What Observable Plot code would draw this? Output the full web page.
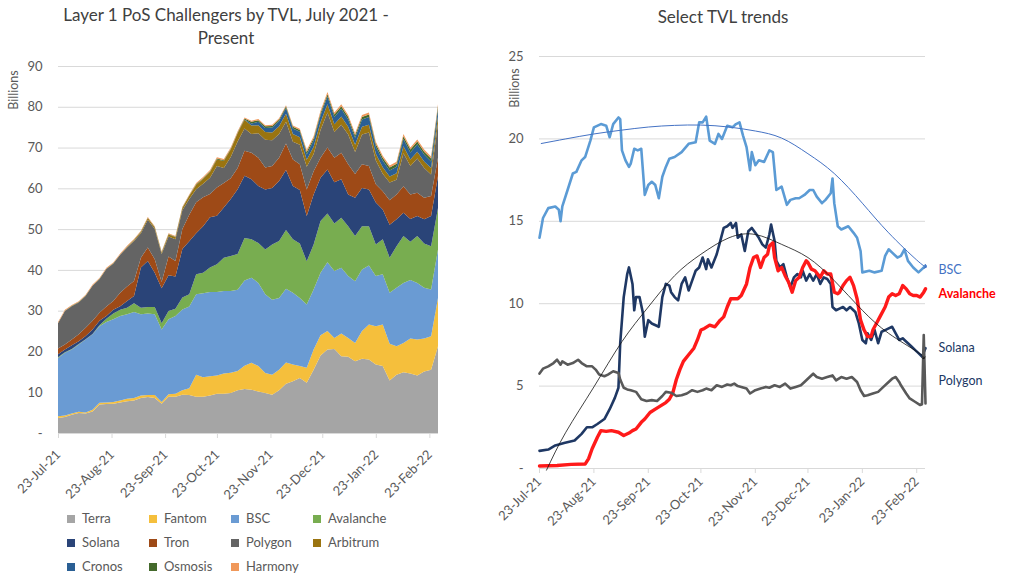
<!DOCTYPE html>
<html>
<head>
<meta charset="utf-8">
<script src="https://cdn.jsdelivr.net/npm/d3@7"></script>
<script src="https://cdn.jsdelivr.net/npm/@observablehq/plot@0.6"></script>
<style>
html,body{margin:0;padding:0;background:#fff;}
#root{position:relative;width:1024px;height:580px;overflow:hidden;font-family:Lato,"Open Sans",sans-serif;}
.title{position:absolute;color:#404040;font-size:17px;text-align:center;line-height:23px;}
.ylab{position:absolute;color:#595959;font-size:12.5px;transform:translate(-50%,-50%) rotate(-90deg);white-space:nowrap;}
.leg{position:absolute;font-size:13px;color:#595959;white-space:nowrap;line-height:16px;}
.leg .sw{display:inline-block;width:8px;height:8px;margin-right:7px;}
.chart{position:absolute;}
</style>
</head>
<body>
<div id="root">
  <div class="title" style="left:0;top:3px;width:452px;">Layer 1 PoS Challengers by TVL, July 2021 -<br>Present</div>
  <div class="title" style="left:590px;top:5px;width:266px;">Select TVL trends</div>
  <div id="left" class="chart" style="left:0;top:50px;"></div>
  <div id="right" class="chart" style="left:490px;top:40px;"></div>
  <div id="legend"></div>
  <div class="ylab" style="left:13px;top:90px;">Billions</div>
  <div class="ylab" style="left:514px;top:88px;">Billions</div>
</div>
<script>
// ---------- shared ----------
const START = Date.UTC(2021, 6, 23);           // 23-Jul-21 = day 0
const day = d => new Date(START + d * 864e5);
const tickLabels = ["2021-07-23","2021-08-23","2021-09-23","2021-10-23","2021-11-23","2021-12-23","2022-01-23","2022-02-23"];
const tickDates = tickLabels.map(s => new Date(s + "T00:00:00Z"));
const fmt = d3.utcFormat("%d-%b-%y");
const yFmt = v => v === 0 ? "-" : String(v);

// ---------- left chart data (billions, every 4 days from day 0 to day 220) ----------
const gridDays = [0,4,8,12,16,20,24,28,32,36,40,44,48,52,56,60,64,68,72,76,80,84,88,92,96,100,104,108,112,116,120,124,128,132,136,140,144,148,152,156,160,164,168,172,176,180,184,188,192,196,200,204,208,212,216,220];
const leftSeries = ["Terra","Fantom","BSC","Avalanche","Solana","Tron","Polygon","Arbitrum","Cronos","Osmosis","Harmony"];
const leftColors = ["#a5a5a5","#f5bf3c","#6a9bd3","#78ad50","#2a4478","#9e4a17","#646464","#9a7410","#2a5f94","#446a2c","#f0985a"];
const terra = [3.7,3.9,4.5,4.9,4.8,5.3,7.0,7.1,7.2,7.5,7.8,8.0,8.6,8.8,8.6,7.2,8.9,8.9,9.4,9.3,8.9,8.9,9.2,9.6,9.6,9.8,10.5,10.8,10.6,10.2,9.8,9.4,10.5,12.1,12.7,13.5,12.3,15.5,19.0,20.5,20.6,18.8,18.7,17.6,18.2,18.0,16.8,16.4,12.9,14.3,14.9,14.6,14.1,15.1,15.5,21.3];
const fantom = [0.4,0.4,0.3,0.3,0.2,0.4,0.4,0.4,0.4,0.5,0.6,0.6,0.6,0.5,0.7,0.4,0.6,0.7,1.1,1.7,5.4,4.8,4.7,4.5,5.0,5.0,4.7,5.7,6.6,6.2,4.9,4.9,5.0,5.2,4.1,2.9,3.7,5.0,5.0,4.5,2.7,5.6,4.6,4.5,6.8,8.6,9.4,10.2,9.0,7.0,7.2,8.6,8.8,8.1,8.2,11.8];
const bscL = [14.3,15.4,15.7,16.5,17.9,18.5,18.8,19.7,20.3,20.7,20.7,21.1,19.9,20.0,19.8,17.8,18.4,19.1,19.8,20.0,19.7,20.6,20.7,20.5,20.2,20.0,19.9,20.9,20.9,20.4,19.3,18.4,17.6,18.1,17.6,16.7,15.5,14.7,15.3,16.9,16.4,16.1,15.2,15.1,15.1,14.5,12.3,12.3,12.5,14.3,14.7,14.3,13.9,12.4,11.5,11.9];
const avalancheL = [0.2,0.1,0.1,0.1,0.1,0.1,0.2,0.8,1.4,1.5,1.6,2.1,1.6,1.6,1.8,1.5,2.0,1.8,2.9,3.0,4.9,5.0,6.0,6.8,8.2,8.6,8.8,10.4,9.4,9.8,11.0,13.5,14.0,14.4,13.1,13.4,10.6,11.0,12.7,11.9,11.7,12.3,12.2,11.1,10.6,9.6,7.7,8.6,8.6,10.2,11.5,9.4,11.5,10.9,10.6,10.2];
const solanaL = [0.7,0.7,0.9,0.7,0.8,1.1,1.1,0.7,0.9,0.9,1.7,1.8,9.9,11.3,8.4,8.6,8.8,7.9,11.9,13.0,10.1,11.4,12.3,11.9,12.3,14.0,15.9,15.3,14.7,14.0,14.7,13.9,14.7,14.7,13.1,13.1,11.1,12.3,10.6,10.8,10.1,9.4,7.8,9.4,9.4,9.0,10.3,7.3,8.1,6.6,5.7,5.6,4.9,5.9,7.4,7.8];
const tronL = [1.4,1.2,1.4,1.7,2.0,2.1,2.0,2.3,2.2,3.3,3.5,3.7,2.4,3.3,3.3,1.5,4.6,3.8,4.9,6.5,7.6,7.1,5.7,6.9,6.0,5.1,5.2,6.1,6.5,6.9,5.4,5.4,5.7,6.5,6.5,6.3,6.5,5.7,4.9,5.4,6.0,6.5,7.4,5.8,5.8,5.8,4.5,4.5,6.0,6.1,6.5,6.0,5.7,5.3,4.9,4.5];
const polygonL = [6.2,8.2,8.2,7.8,7.8,8.6,8.2,9.2,9.1,9.3,9.6,9.8,6.0,6.8,7.4,6.9,4.9,5.3,4.6,3.9,3.2,3.3,4.0,5.3,3.7,5.2,6.5,5.5,4.6,6.0,6.8,6.3,5.8,5.3,4.3,4.8,5.6,4.2,6.8,8.6,6.3,6.9,7.3,5.4,7.3,8.2,5.8,4.3,4.3,3.6,8.1,7.0,8.4,7.3,5.3,8.4];
const arbitrum = [0,0,0,0,0,0,0,0,0,0,0.1,0.2,0.3,0.4,0.4,0.3,0.5,0.5,0.6,0.8,1.0,1.2,1.4,1.6,1.7,1.8,2.0,2.1,2.1,2.0,1.9,1.9,1.9,2.0,1.9,1.8,1.7,1.8,1.9,2.0,1.9,2.0,1.9,1.8,1.9,1.9,1.7,1.6,1.5,1.6,1.7,1.6,1.7,1.6,1.6,1.8];
const cronos = [0,0,0,0,0,0,0,0,0,0,0,0,0,0,0,0,0,0,0,0,0,0,0,0,0,0,0,0.1,0.5,0.8,1.0,1.2,1.3,1.4,1.4,1.4,1.3,1.5,1.7,1.9,1.8,1.9,1.8,1.7,1.8,1.9,1.7,1.6,1.5,1.6,1.8,1.7,1.8,1.7,1.6,1.7];
const osmosis = [0.1,0.1,0.1,0.1,0.1,0.1,0.1,0.1,0.1,0.1,0.1,0.1,0.1,0.1,0.1,0.1,0.1,0.1,0.1,0.1,0.2,0.2,0.2,0.2,0.2,0.2,0.2,0.2,0.4,0.4,0.4,0.4,0.4,0.4,0.4,0.4,0.6,0.6,0.6,0.6,0.6,0.6,0.6,0.6,0.6,0.6,0.7,0.7,0.7,0.7,0.7,0.7,0.7,0.7,0.7,0.7];
const harmony = [0.2,0.2,0.2,0.2,0.2,0.2,0.2,0.2,0.2,0.2,0.2,0.2,0.2,0.2,0.2,0.2,0.2,0.2,0.2,0.2,0.3,0.3,0.3,0.3,0.3,0.3,0.3,0.3,0.3,0.3,0.3,0.3,0.3,0.3,0.3,0.3,0.5,0.5,0.5,0.5,0.5,0.5,0.5,0.5,0.5,0.5,0.5,0.5,0.5,0.5,0.5,0.5,0.5,0.5,0.5,0.5];
const leftValues = [terra,fantom,bscL,avalancheL,solanaL,tronL,polygonL,arbitrum,cronos,osmosis,harmony];
const leftYTicks = [0,10,20,30,40,50,60,70,80,90];

// ---------- right chart data (billions) ----------
const bscDays = [0,2,5,9,11,12,13,16,19,21,24,26,29,31,35,38,40,42,45,46,47,49,51,52,54,56,58,60,62,64,66,68,70,72,74,77,81,85,89,91,93,95,97,100,102,104,107,110,112,114,116,118,120,121,123,125,128,131,133,135,138,141,143,146,148,151,154,156,158,161,163,166,167,168,170,172,176,179,181,183,184,188,191,195,197,199,201,204,206,208,210,213,216,218,220];
const bscVals = [14.0,15.2,15.8,15.9,15.7,15.0,15.9,16.9,17.9,18.0,18.7,18.9,19.9,20.7,20.9,20.8,20.1,20.9,21.3,21.2,19.3,18.7,18.3,18.5,19.4,19.3,19.4,16.6,17.2,17.4,17.2,16.4,17.7,18.3,18.8,18.9,19.2,19.7,19.8,21.0,21.0,21.35,19.9,19.7,20.3,20.0,20.8,20.7,20.9,21.0,20.2,19.5,18.1,19.2,18.4,18.7,18.6,19.3,19.2,16.9,17.1,16.0,16.3,16.4,16.4,16.6,16.9,16.9,16.5,16.1,16.3,16.7,17.6,16.1,14.7,14.5,14.7,14.3,14.0,13.2,11.9,12.0,11.9,12.0,12.9,13.3,13.1,12.8,12.9,13.3,12.6,12.2,11.9,12.1,12.3];
const solDays = [0,5,9,14,20,24,27,30,33,37,40,43,45,46,48,50,51,53,54,55,57,59,60,62,64,68,70,72,74,75,77,79,81,83,85,87,89,91,93,95,96,98,101,103,105,107,109,110,112,113,115,117,119,121,123,125,127,129,131,132,134,135,137,139,141,143,145,147,149,150,152,154,156,158,160,162,164,166,167,169,171,173,175,177,180,182,184,186,187,189,191,193,195,197,199,201,203,205,207,208,210,212,214,216,218,220];
const solVals = [1.07,1.15,1.4,1.55,1.7,2.1,2.5,2.5,2.7,3.0,3.6,4.3,4.9,7.6,10.4,11.8,12.2,11.2,9.6,10.4,10.4,9.4,8.0,9.0,8.8,8.6,10.4,11.2,11.1,10.7,10.4,10.2,11.2,11.6,10.8,11.4,12.0,12.2,12.8,12.1,12.7,12.2,13.0,13.8,14.6,14.7,14.9,14.6,14.9,14.0,14.2,13.2,14.4,14.6,14.3,14.0,13.6,13.4,14.2,14.8,13.8,12.6,12.2,12.4,11.6,11.0,11.6,11.8,11.6,12.0,11.4,11.8,11.4,11.8,11.2,11.6,11.5,11.2,9.8,9.6,9.7,9.8,9.6,9.8,9.5,8.8,7.8,7.6,8.2,7.8,8.4,7.6,8.3,8.4,8.5,8.6,8.2,7.8,7.9,7.8,7.6,7.4,7.2,7.0,6.8,7.3];
const avaDays = [0,10,18,26,28,30,33,35,38,41,45,48,51,53,55,58,60,63,66,69,72,74,76,78,80,82,85,88,90,92,94,97,100,103,105,107,109,113,115,118,120,122,124,126,128,130,131,133,134,136,138,140,142,144,146,148,150,152,153,155,157,160,162,164,166,168,170,171,173,175,177,179,181,183,185,187,189,190,192,194,197,199,201,203,205,207,209,211,213,215,217,219,220];
const avaVals = [0.15,0.18,0.25,0.27,0.6,1.2,1.9,2.3,2.25,2.3,2.2,2.0,2.15,2.3,2.4,2.8,3.0,3.4,3.6,3.8,4.0,4.2,4.6,5.4,6.0,6.5,6.9,7.3,7.8,8.4,8.5,8.7,8.6,9.0,9.2,9.8,10.3,10.3,10.5,11.2,12.2,12.8,12.9,12.2,12.8,13.0,13.5,13.7,12.8,12.0,12.2,11.7,11.3,10.7,11.4,11.6,12.2,12.6,12.5,12.1,12.0,11.6,12.0,11.8,11.8,10.7,10.6,10.7,11.1,11.4,11.6,11.1,10.3,9.0,8.4,8.0,8.0,8.4,8.8,9.2,9.8,10.4,10.6,10.5,10.6,11.1,10.9,10.6,10.5,10.5,10.4,10.7,10.9];
const polDays = [0,2,5,8,10,12,13,16,19,22,24,27,30,32,34,37,39,42,45,46,48,50,52,55,58,61,64,67,70,72,75,78,81,84,87,90,93,95,98,101,104,107,109,111,113,115,118,120,123,126,129,131,134,137,140,143,146,149,151,154,156,158,161,164,167,169,172,175,178,181,183,185,187,190,193,196,199,201,203,205,206,209,211,214,217,218,219,220];
const polVals = [5.76,6.06,6.2,6.4,6.6,6.3,6.5,6.3,6.4,6.6,6.4,6.2,6.2,6.0,5.7,5.6,5.7,5.9,5.8,5.4,4.9,4.8,4.75,4.65,4.2,4.1,4.15,4.1,4.4,4.65,4.6,4.4,4.45,4.55,4.75,4.65,4.75,4.85,4.75,5.05,4.95,5.1,5.05,5.15,5.0,4.95,4.85,4.55,4.75,4.85,4.95,4.9,5.05,4.95,5.15,4.85,4.95,5.05,5.25,5.55,5.75,5.55,5.45,5.55,5.65,5.35,5.55,5.45,5.55,5.25,4.75,4.4,4.45,4.55,4.65,4.95,5.25,5.45,5.55,5.25,5.05,4.55,4.25,4.05,3.85,3.9,8.1,3.95];
const bscTrendDays = [1,15,31,46,62,77,92,108,123,138,153,168,184,199,215,220];
const bscTrendVals = [19.72,20.0,20.3,20.52,20.72,20.82,20.84,20.72,20.48,20.05,19.1,17.9,16.1,14.3,12.65,12.25];
const solTrendDays = [4,15,31,47,62,77,92,108,123,138,153,168,184,199,215,219];
const solTrendVals = [-0.1,2.2,4.95,7.7,9.8,11.7,13.0,14.0,14.2,13.6,12.8,11.4,9.6,8.2,7.1,6.7];
const rightYTicks = [0,5,10,15,20,25];

// ---------- build left chart ----------
const stackData = leftSeries.flatMap((s, k) => gridDays.map((d, i) => ({date: day(d), series: s, value: leftValues[k][i]})));
const baseStyle = {fontFamily: "Lato, 'Open Sans', sans-serif", fontSize: "13px", color: "#595959", background: "transparent", overflow: "visible"};

const leftPlot = Plot.plot({
  width: 460, height: 443,
  marginLeft: 58, marginRight: 22, marginTop: 16, marginBottom: 60,
  style: baseStyle,
  x: {type: "utc", domain: [day(0), day(220)]},
  y: {domain: [0, 90]},
  color: {domain: leftSeries, range: leftColors},
  marks: [
    Plot.ruleY(leftYTicks.filter(v => v > 0), {stroke: "#d9d9d9", strokeWidth: 1}),
    Plot.areaY(stackData, {x: "date", y: "value", fill: "series", order: leftSeries}),
    Plot.ruleY([0], {stroke: "#d9d9d9", strokeWidth: 1}),
    Plot.axisY({ticks: leftYTicks, tickSize: 0, tickPadding: 16, tickFormat: yFmt, label: null}),
    Plot.axisX({ticks: tickDates, tickSize: 5, tickPadding: 14, tickRotate: -45, tickFormat: fmt, label: null, stroke: "#d9d9d9"})
  ]
});
document.getElementById("left").appendChild(leftPlot);

// legend
const legend = document.getElementById("legend");
leftSeries.forEach((s, k) => {
  const col = k % 4, row = Math.floor(k / 4);
  const el = document.createElement("div");
  el.className = "leg";
  el.style.left = (67 + col * 82) + "px";
  el.style.top = (510 + row * 24.2) + "px";
  el.innerHTML = `<span class="sw" style="background:${leftColors[k]}"></span>${s}`;
  legend.appendChild(el);
});

// ---------- build right chart ----------
const toPts = (days, vals) => days.map((d, i) => ({date: day(d), v: vals[i]}));
const bscData = toPts(bscDays, bscVals);
const solData = toPts(solDays, solVals);
const avaData = toPts(avaDays, avaVals);
const polData = toPts(polDays, polVals);
const bscTrend = toPts(bscTrendDays, bscTrendVals);
const solTrend = toPts(solTrendDays, solTrendVals);
const last = a => a[a.length - 1];

const rightPlot = Plot.plot({
  width: 534, height: 490,
  marginLeft: 49, marginRight: 99, marginTop: 16, marginBottom: 62,
  style: baseStyle,
  x: {type: "utc", domain: [day(0), day(220)]},
  y: {domain: [0, 25]},
  marks: [
    Plot.ruleY(rightYTicks.filter(v => v > 0), {stroke: "#d9d9d9", strokeWidth: 1}),
    Plot.ruleY([0], {stroke: "#d9d9d9", strokeWidth: 1}),
    Plot.line(bscData, {x: "date", y: "v", stroke: "#5b9bd5", strokeWidth: 2.6}),
    Plot.line(solData, {x: "date", y: "v", stroke: "#1f3864", strokeWidth: 2.6}),
    Plot.line(avaData, {x: "date", y: "v", stroke: "#ff1a1a", strokeWidth: 3.4}),
    Plot.line(polData, {x: "date", y: "v", stroke: "#595959", strokeWidth: 2.6}),
    Plot.line(bscTrend, {x: "date", y: "v", stroke: "#4472c4", strokeWidth: 1, curve: "natural", markerEnd: "arrow"}),
    Plot.line(solTrend, {x: "date", y: "v", stroke: "#111111", strokeWidth: 0.8, curve: "natural", markerEnd: "arrow"}),
    Plot.axisY({ticks: rightYTicks, tickSize: 0, tickPadding: 16, tickFormat: yFmt, label: null}),
    Plot.axisX({ticks: tickDates, tickSize: 5, tickPadding: 6, tickRotate: -45, tickFormat: fmt, label: null, stroke: "#d9d9d9"}),
    Plot.text([{t: "BSC", v: last(bscVals)}], {x: () => day(220), y: "v", text: "t", dx: 13, dy: 4, textAnchor: "start", fill: "#4472c4", fontSize: 12.5}),
    Plot.text([{t: "Avalanche", v: last(avaVals)}], {x: () => day(220), y: "v", text: "t", dx: 13, dy: 5, textAnchor: "start", fill: "#ff0000", fontWeight: "bold", fontSize: 12.5}),
    Plot.text([{t: "Solana", v: last(solVals)}], {x: () => day(220), y: "v", text: "t", dx: 13, dy: 0, textAnchor: "start", fill: "#203864", fontSize: 12.5}),
    Plot.text([{t: "Polygon", v: last(polVals)}], {x: () => day(220), y: "v", text: "t", dx: 13, dy: -22, textAnchor: "start", fill: "#203864", fontSize: 12.5})
  ]
});
document.getElementById("right").appendChild(rightPlot);
</script>
</body>
</html>
